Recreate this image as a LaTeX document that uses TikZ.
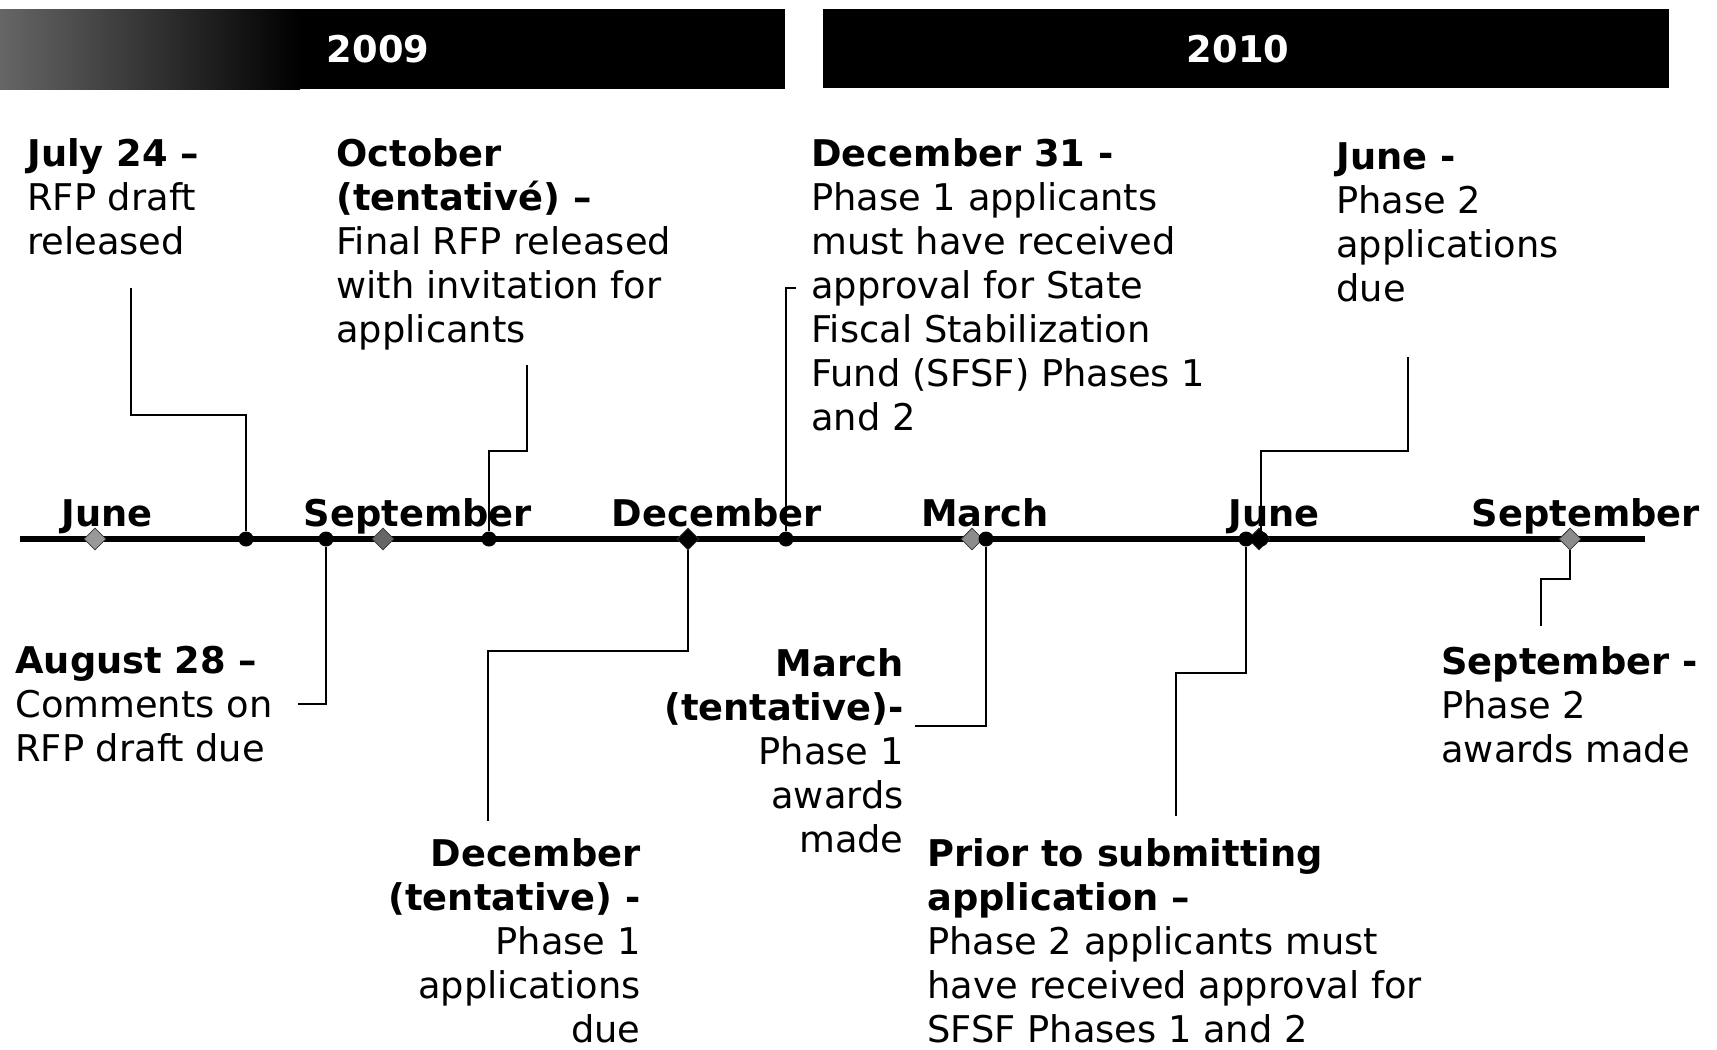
\documentclass[tikz,border=0pt]{standalone}
\usepackage{fontspec}
\setmainfont{DejaVu Sans}
\usetikzlibrary{positioning,shapes.geometric}
\tikzset{
  yeartxt/.style={text=white, font=\bfseries\fontsize{18.4}{22}\selectfont, inner sep=0pt},
  monthtxt/.style={font=\bfseries\fontsize{18.4}{22}\selectfont, inner sep=0pt, anchor=base},
  evtxt/.style={font=\fontsize{18.4}{22}\selectfont, inner sep=0pt},
  evdot/.style={circle, fill=black, minimum size=7.5pt, inner sep=0pt},
  mdia/.style={diamond, draw=black!80, line width=0.4pt, minimum size=11pt, inner sep=0pt},
  lead/.style={draw=black, line width=0.8pt},
  axisline/.style={line width=3pt},
}

\begin{document}
\begin{tikzpicture}[x=0.5pt,y=-0.5pt]
\useasboundingbox (0,0) rectangle (1717,1049);
% year bars
\shade[left color=black!60, right color=black] (0,9) rectangle (300,89);
\fill[black] (299,9) rectangle (785,89);
\fill[black] (823,9) rectangle (1669,88);
\node[yeartxt] (y2009) at (378,49) {2009};
\node[yeartxt] (y2010) at (1238,49) {2010};

% time axis with month labels
\draw[axisline] (20,539) -- (1645,539);
\foreach \x/\m in {107/June, 418/September, 717/December, 985/March, 1274/June, 1586/September}{
  \node[monthtxt] at (\x,526) {\m};
}
\foreach \x/\nm/\c in {95/Jun/black!40, 383/Sep/black!60, 688/Dec/black, 972/Mar/black!45, 1259/JunB/black, 1570/SepB/black!45}{
  \node[mdia, fill=\c] (m\nm) at (\x,539) {};
}
\foreach \x/\nm in {246/Jul, 326/Aug, 489/Oct, 786/DecE, 986/Mar, 1246/Pri, 1261/Jun}{
  \node[evdot] (d\nm) at (\x,539) {};
}

% events above the axis
\node[evtxt, anchor=north west, align=left] (tJul) at (27,138)
  {\textbf{July 24 –}\\RFP draft\\released};
\node[evtxt, anchor=north west, align=left] (tOct) at (336,138)
  {\textbf{October}\\\textbf{(tentativé) –}\\Final RFP released\\with invitation for\\applicants};
\node[evtxt, anchor=north west, align=left] (tDecE) at (811,138)
  {\textbf{December 31 -}\\Phase 1 applicants\\must have received\\approval for State\\Fiscal Stabilization\\Fund (SFSF) Phases 1\\and 2};
\node[evtxt, anchor=north west, align=left] (tJun) at (1336,142)
  {\textbf{June -}\\Phase 2\\applications\\due};

% events below the axis
\node[evtxt, anchor=north west, align=left] (tAug) at (15,646)
  {\textbf{August 28 –}\\Comments on\\RFP draft due};
\node[evtxt, anchor=north east, align=right] (tMar) at (904,648)
  {\textbf{March}\\\textbf{(tentative)-}\\Phase 1\\awards\\made};
\node[evtxt, anchor=north east, align=right] (tDec) at (641,838)
  {\textbf{December}\\\textbf{(tentative) -}\\Phase 1\\applications\\due};
\node[evtxt, anchor=north west, align=left] (tPri) at (927,838)
  {\textbf{Prior to submitting}\\\textbf{application –}\\Phase 2 applicants must\\have received approval for\\SFSF Phases 1 and 2};
\node[evtxt, anchor=north west, align=left] (tSep) at (1441,646)
  {\textbf{September -}\\Phase 2\\awards made};

% leader lines
\coordinate (eJul) at (131,288);
\coordinate (eAug) at (298,704);
\coordinate (eOct) at (527,365);
\coordinate (eDec) at (488,821);
\coordinate (eDecE) at (796,288);
\coordinate (eMar) at (915,726);
\coordinate (eJun) at (1408,357);
\coordinate (ePri) at (1176,816);
\coordinate (eSep) at (1541,626);
\draw[lead] (dJul) -- ++(0,-124) -| (eJul);
\draw[lead] (dAug) |- (eAug);
\draw[lead] (dOct) -- ++(0,-88) -| (eOct);
\draw[lead] (mDec) -- ++(0,112) -| (eDec);
\draw[lead] (dDecE) |- (eDecE);
\draw[lead] (dMar) |- (eMar);
\draw[lead] (dJun) -- ++(0,-88) -| (eJun);
\draw[lead] (dPri) -- ++(0,134) -| (ePri);
\draw[lead] (mSepB) -- ++(0,40) -| (eSep);
\end{tikzpicture}
\end{document}
